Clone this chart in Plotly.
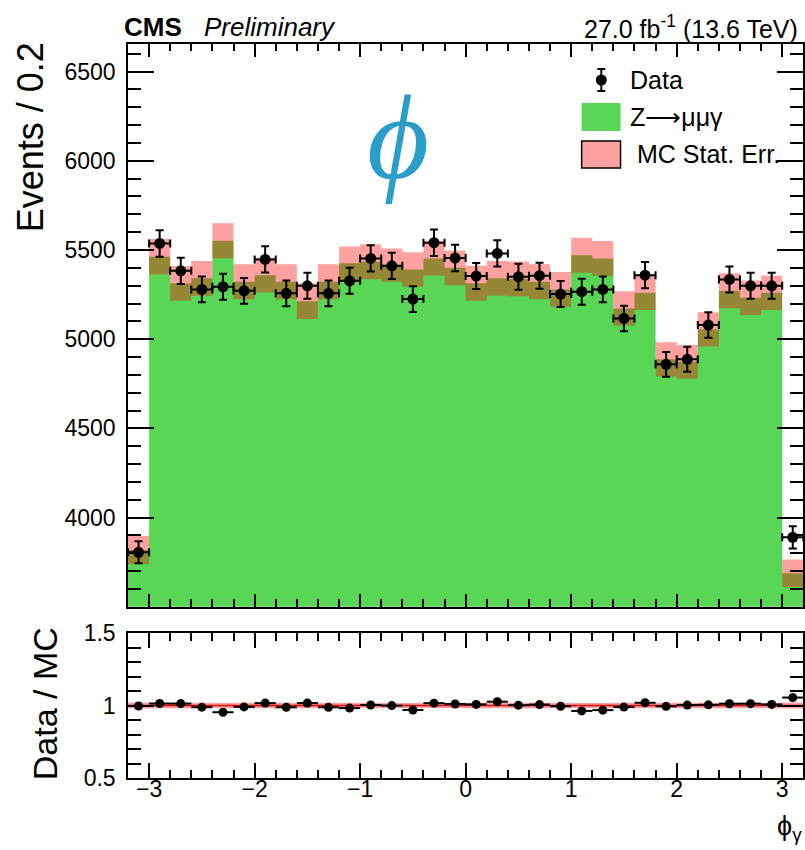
import numpy as np
import plotly.graph_objects as go

# ---- photon azimuth binning (0.2 wide bins) ----
bin_edges = [-3.2, -3.0, -2.8, -2.6, -2.4, -2.2, -2.0, -1.8, -1.6, -1.4, -1.2,
             -1.0, -0.8, -0.6, -0.4, -0.2, 0.0, 0.2, 0.4, 0.6, 0.8, 1.0, 1.2,
             1.4, 1.6, 1.8, 2.0, 2.2, 2.4, 2.6, 2.8, 3.0, 3.2]
bin_centers = [-3.1, -2.9, -2.7, -2.5, -2.3, -2.1, -1.9, -1.7, -1.5, -1.3, -1.1,
               -0.9, -0.7, -0.5, -0.3, -0.1, 0.1, 0.3, 0.5, 0.7, 0.9, 1.1, 1.3,
               1.5, 1.7, 1.9, 2.1, 2.3, 2.5, 2.7, 2.9, 3.1]

# Z -> mu mu gamma simulation, events per bin
mc_yield = [3818, 5462, 5313, 5341, 5552, 5322, 5359, 5322, 5213, 5322, 5425,
            5434, 5415, 5391, 5453, 5400, 5313, 5341, 5338, 5322, 5279, 5471,
            5453, 5172, 5260, 4887, 4873, 5055, 5271, 5232, 5260, 3687]
# MC statistical uncertainty per bin
mc_stat_err = [80, 100, 97, 98, 98, 98, 98, 98, 100, 98, 95,
               98, 93, 97, 98, 97, 98, 97, 98, 98, 97, 98,
               97, 96, 97, 96, 95, 96, 98, 97, 97, 77]
# observed events per bin
data_yield = [3805, 5537, 5383, 5279, 5294, 5271, 5447, 5257, 5299, 5257, 5327,
              5453, 5411, 5225, 5541, 5455, 5354, 5481, 5350, 5356, 5253, 5266,
              5279, 5116, 5359, 4859, 4887, 5079, 5335, 5299, 5299, 3889]

x_ticks = [-3, -2, -1, 0, 1, 2, 3]
y_ticks = [4000, 4500, 5000, 5500, 6000, 6500]
ratio_ticks = [0.5, 1, 1.5]
ratio_ticktext = ["0.5", "1", "1.5"]

GREEN = "rgb(89,214,86)"
BAND = "rgba(255,0,0,0.37)"
PINK = "rgb(255,161,161)"
FONT = "Liberation Sans, Arial, sans-serif"

mc = np.array(mc_yield, dtype=float)
err = np.array(mc_stat_err, dtype=float)
data = np.array(data_yield, dtype=float)
data_err = np.sqrt(data)
ratio = data / mc
ratio_err = data_err / mc
rel_err = err / mc


def step(vals):
    # repeat the last bin so an 'hv' line spans the full final bin
    vals = list(vals)
    return vals + [vals[-1]]


fig = go.Figure()

# ---- upper panel ----
fig.add_trace(go.Scatter(x=bin_edges, y=step(mc), mode="lines",
                         line=dict(width=0, shape="hv"), fill="tozeroy",
                         fillcolor=GREEN, hoverinfo="skip", showlegend=False,
                         xaxis="x", yaxis="y"))
fig.add_trace(go.Scatter(x=bin_edges, y=step(mc - err), mode="lines",
                         line=dict(width=0, shape="hv"), hoverinfo="skip",
                         showlegend=False, xaxis="x", yaxis="y"))
fig.add_trace(go.Scatter(x=bin_edges, y=step(mc + err), mode="lines",
                         line=dict(width=0, shape="hv"), fill="tonexty",
                         fillcolor=BAND, hoverinfo="skip", showlegend=False,
                         xaxis="x", yaxis="y"))
fig.add_trace(go.Scatter(x=bin_centers, y=data, mode="markers",
                         marker=dict(color="black", size=11),
                         error_y=dict(type="data", array=data_err, color="black",
                                      thickness=2, width=4),
                         error_x=dict(type="constant", value=0.1, color="black",
                                      thickness=2, width=4),
                         showlegend=False, xaxis="x", yaxis="y"))

# ---- ratio panel ----
fig.add_trace(go.Scatter(x=bin_edges, y=step(1 - rel_err), mode="lines",
                         line=dict(width=0, shape="hv"), hoverinfo="skip",
                         showlegend=False, xaxis="x2", yaxis="y2"))
fig.add_trace(go.Scatter(x=bin_edges, y=step(1 + rel_err), mode="lines",
                         line=dict(width=0, shape="hv"), fill="tonexty",
                         fillcolor=BAND, hoverinfo="skip", showlegend=False,
                         xaxis="x2", yaxis="y2"))
fig.add_trace(go.Scatter(x=bin_centers, y=ratio, mode="markers",
                         marker=dict(color="black", size=9),
                         error_y=dict(type="data", array=ratio_err, color="black",
                                      thickness=2, width=3),
                         error_x=dict(type="constant", value=0.1, color="black",
                                      thickness=2, width=0),
                         showlegend=False, xaxis="x2", yaxis="y2"))

# ---- page geometry ----
W, H = 805, 850
ML, MR, MT, MB = 128, 0, 44, 72
PW = W - ML - MR
PH = H - MT - MB


def xp(px):
    return (px - ML) / PW


def yp(py):
    return (H - MB - py) / PH


main_dom = [yp(606.7), 1.0]
ratio_dom = [0.0, yp(633)]

axis_common = dict(showline=True, linecolor="black", linewidth=1.5,
                   mirror="ticks", ticks="inside", tickcolor="black",
                   tickwidth=1.5, showgrid=False, zeroline=False,
                   tickfont=dict(family=FONT, size=23, color="black"))

fig.update_layout(
    width=W, height=H,
    margin=dict(l=ML, r=MR, t=MT, b=MB, pad=0),
    paper_bgcolor="white", plot_bgcolor="white",
    font=dict(family=FONT, color="black"),
    showlegend=False,
    xaxis=dict(domain=[0, 1], anchor="y", range=[-3.2, 3.197],
               tickvals=x_ticks, showticklabels=False, ticklen=13,
               minor=dict(ticks="inside", ticklen=7.5, dtick=0.2, tick0=0,
                          tickcolor="black", tickwidth=1.5),
               **axis_common),
    yaxis=dict(domain=main_dom, anchor="x", range=[3500, 6655],
               tickvals=y_ticks, ticklen=26, ticklabelstandoff=6,
               minor=dict(ticks="inside", ticklen=13, dtick=100, tick0=0,
                          tickcolor="black", tickwidth=1.5),
               **axis_common),
    xaxis2=dict(domain=[0, 1], anchor="y2", range=[-3.2, 3.197],
                tickvals=x_ticks, ticklen=15, ticklabelstandoff=-10,
                minor=dict(ticks="inside", ticklen=8, dtick=0.2, tick0=0,
                           tickcolor="black", tickwidth=1.5),
                **axis_common),
    yaxis2=dict(domain=ratio_dom, anchor="x2", range=[0.5, 1.5],
                tickvals=ratio_ticks, ticktext=ratio_ticktext, ticklen=26,
                ticklabelstandoff=6,
                minor=dict(ticks="inside", ticklen=13, dtick=0.1, tick0=0,
                           tickcolor="black", tickwidth=1.5),
                **axis_common),
)

shapes = []
# unity line in the ratio panel
shapes.append(dict(type="line", xref="x2 domain", yref="y2", x0=0, x1=1,
                   y0=1, y1=1, line=dict(color="rgb(200,0,0)", width=1.5),
                   layer="below"))

# legend: data marker with error bar
lx, ly = 602.7, 80
shapes.append(dict(type="line", xref="paper", yref="paper",
                   x0=xp(lx), x1=xp(lx), y0=yp(ly - 11), y1=yp(ly + 11),
                   line=dict(color="black", width=2)))
for cy in (ly - 11, ly + 11):
    shapes.append(dict(type="line", xref="paper", yref="paper",
                       x0=xp(lx - 4), x1=xp(lx + 4), y0=yp(cy), y1=yp(cy),
                       line=dict(color="black", width=2)))
shapes.append(dict(type="circle", xref="paper", yref="paper",
                   x0=xp(lx - 5.5), x1=xp(lx + 5.5), y0=yp(ly - 5.5),
                   y1=yp(ly + 5.5), fillcolor="black",
                   line=dict(color="black", width=0)))
# legend: simulation box
shapes.append(dict(type="rect", xref="paper", yref="paper",
                   x0=xp(583), x1=xp(622), y0=yp(131), y1=yp(103),
                   fillcolor=GREEN, line=dict(width=0)))
# legend: stat. uncertainty box
shapes.append(dict(type="rect", xref="paper", yref="paper",
                   x0=xp(583), x1=xp(622), y0=yp(168), y1=yp(141),
                   fillcolor=PINK, line=dict(color="black", width=1.5)))
fig.update_layout(shapes=shapes)

ann = []


def text(s, px, py, size, xanchor="left", yanchor="middle", **kw):
    ann.append(dict(text=s, x=xp(px), y=yp(py), xref="paper", yref="paper",
                    xanchor=xanchor, yanchor=yanchor, showarrow=False,
                    font=dict(family=kw.pop("family", FONT), size=size,
                              color=kw.pop("color", "black")), **kw))


text("<b>CMS</b>", 122, 27, 26)
text("<i>Preliminary</i>", 202, 27, 26)
text("27.0 fb<sup>-1</sup> (13.6 TeV)", 802, 27, 25, xanchor="right")
text("Data", 629, 80, 25)
text("Z⟶μμγ", 629, 117, 25)
text("MC Stat. Err.", 637, 154, 25)
text("<i>ϕ</i>", 399, 137, 120, xanchor="center",
     family="Liberation Serif, DejaVu Serif, serif", color="rgb(42,158,200)")
text("Events / 0.2", 30, 137, 36, xanchor="center", textangle=-90)
text("Data / MC", 45, 704, 34, xanchor="center", textangle=-90)
text("ϕ<sub>γ</sub>", 791, 828, 27, xanchor="center")
fig.update_layout(annotations=ann)

fig.write_html("out.html")
